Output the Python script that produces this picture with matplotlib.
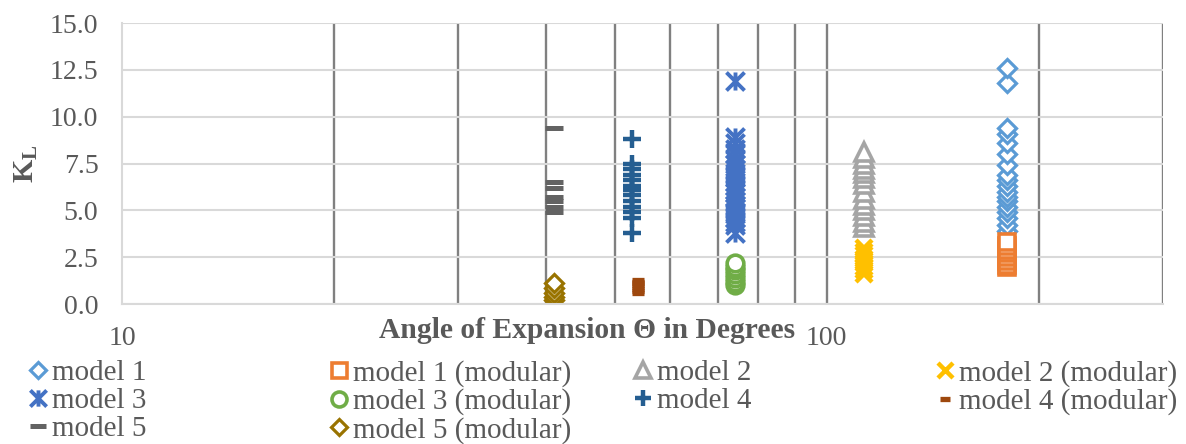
import matplotlib.pyplot as plt
import numpy as np
from matplotlib.path import Path
from matplotlib.ticker import FixedLocator

plt.rcParams['font.family'] = ['Liberation Serif', 'DejaVu Serif']
plt.rcParams['mathtext.fontset'] = 'custom'
plt.rcParams['mathtext.rm'] = 'Liberation Serif'
plt.rcParams['mathtext.bf'] = 'Liberation Serif:bold'

TXT = '#595959'

# angle (deg) of each model, and loss coefficients K_L
# (listed low to high, so the top marker of each stack is drawn last)
m1_angle, m1_kl = 180, [3.9, 4.2, 4.6, 4.9, 5.2, 5.5, 5.7, 6.0, 6.3, 6.6, 6.9,
                        7.4, 8.0, 8.6, 9.1, 9.4, 11.8, 12.6]
m1mod_angle, m1mod_kl = 180, [2.0, 2.1, 2.3, 2.5, 2.7, 2.9, 3.1, 3.3]
m2_angle, m2_kl = 113, [4.1, 4.4, 4.7, 5.0, 5.3, 5.6, 6.0, 6.4, 6.7, 7.0, 7.2,
                        7.5, 7.8, 8.1]
m2mod_angle, m2mod_kl = 113, [1.6, 1.8, 2.0, 2.2, 2.4, 2.6, 2.8, 3.0]
m3_angle, m3_kl = 74, [3.8, 4.2, 4.4, 4.6, 4.8, 4.9, 5.1, 5.3, 5.5, 5.7, 5.9,
                       6.1, 6.3, 6.5, 6.8, 7.0, 7.2, 7.5, 7.7, 8.0, 8.3, 8.6,
                       8.9, 11.9]
m3mod_angle, m3mod_kl = 74, [1.0, 1.2, 1.4, 1.6, 1.8, 2.0, 2.2]
m4_angle, m4_kl = 53, [3.8, 4.6, 4.9, 5.2, 5.5, 5.8, 6.1, 6.3, 6.6, 6.9, 7.2,
                       7.5, 8.8]
m4mod_angle, m4mod_kl = 54, [0.6, 0.7, 0.8, 0.9, 1.0, 1.1, 1.2, 1.3]
m5_angle, m5_kl = 41, [4.9, 5.2, 5.5, 5.7, 6.2, 6.5, 9.4]
m5mod_angle, m5mod_kl = 41, [0.2, 0.4, 0.6, 0.85, 1.1]

# excel style "star": an X with a vertical bar
star = Path([(-1, -1), (1, 1), (-1, 1), (1, -1), (0, -1), (0, 1)],
            [Path.MOVETO, Path.LINETO] * 3)

series = [
    ('model 1', m1_angle, m1_kl, dict(marker='D', ms=9.5, mec='#5b9bd5', mfc='white', mew=2.3)),
    ('model 1 (modular)', m1mod_angle, m1mod_kl, dict(marker='s', ms=12, mec='#ed7d31', mfc='white', mew=2.6)),
    ('model 2', m2_angle, m2_kl, dict(marker='^', ms=13, mec='#a5a5a5', mfc='white', mew=2.6)),
    ('model 2 (modular)', m2mod_angle, m2mod_kl, dict(marker='x', ms=12, mec='#ffc000', mew=3.2)),
    ('model 3', m3_angle, m3_kl, dict(marker=star, ms=13, mec='#4472c4', mew=2.8)),
    ('model 3 (modular)', m3mod_angle, m3mod_kl, dict(marker='o', ms=12, mec='#70ad47', mfc='white', mew=2.6)),
    ('model 4', m4_angle, m4_kl, dict(marker='+', ms=13, mec='#255e91', mew=3.2)),
    ('model 4 (modular)', m4mod_angle, m4mod_kl, dict(marker='_', ms=8.5, mec='#9e480e', mew=3.8)),
    ('model 5', m5_angle, m5_kl, dict(marker='_', ms=13, mec='#636363', mew=3.6)),
    ('model 5 (modular)', m5mod_angle, m5mod_kl, dict(marker='D', ms=9.5, mec='#997300', mfc='white', mew=2.3)),
]

fig = plt.figure(figsize=(11.86, 4.44), dpi=100)
ax = fig.add_axes([122 / 1186, 1 - 304 / 444, 1041 / 1186, 281 / 444])

handles = {}
for name, angle, kl, style in series:
    line, = ax.plot(np.full(len(kl), angle), kl, linestyle='none', **style)
    handles[name] = line

ax.set_xscale('log')
ax.set_xlim(10, 300)
ax.set_ylim(0, 15)
ax.set_yticks(np.arange(0, 15.1, 2.5))
ax.set_yticklabels([f'{v:.1f}' for v in np.arange(0, 15.1, 2.5)])

grid_at = [20, 30, 40, 50, 60, 70, 80, 90, 100, 200, 300]
ax.xaxis.set_major_locator(FixedLocator(grid_at))
ax.set_xticklabels(['100' if g == 100 else '' for g in grid_at])
ax.xaxis.set_minor_locator(FixedLocator([10]))
ax.xaxis.set_minor_formatter(plt.FixedFormatter(['10']))

ax.grid(axis='x', which='major', color='#808080', linewidth=1.7)
ax.grid(axis='y', color='#d9d9d9', linewidth=1.5)
ax.set_axisbelow(True)
for side in ['top', 'right']:
    ax.spines[side].set_visible(False)
for side in ['left', 'bottom']:
    ax.spines[side].set_color('#d9d9d9')
    ax.spines[side].set_linewidth(1.5)

ax.tick_params(axis='both', which='both', length=0, labelsize=20, labelcolor=TXT)
ax.tick_params(axis='y', pad=17)
ax.tick_params(axis='x', which='both', pad=16)

ax.set_xlabel('Angle of Expansion Θ in Degrees', fontsize=21.3, fontweight='bold', color=TXT)
ax.xaxis.set_label_coords(0.447, -0.045)
ax.set_ylabel(r'$\mathbf{K_L}$', fontsize=21.5, color=TXT)
ax.yaxis.set_label_coords(-0.079, 0.5)

# excel lays the legend out row by row in 4 columns
columns = [
    (26, ['model 1', 'model 3', 'model 5']),
    (327, ['model 1 (modular)', 'model 3 (modular)', 'model 5 (modular)']),
    (631, ['model 2', 'model 4']),
    (933, ['model 2 (modular)', 'model 4 (modular)']),
]
for x_px, names in columns:
    leg = fig.legend([handles[n] for n in names], names, loc='upper left',
                     bbox_to_anchor=(x_px / 1186, 1 - 360 / 444),
                     frameon=False, fontsize=21, borderpad=0, borderaxespad=0,
                     handlelength=0.8, handletextpad=0.1, labelspacing=0.05,
                     numpoints=1, markerscale=0.9)
    for t in leg.get_texts():
        t.set_color(TXT)

fig.savefig('out.png', dpi=100)
